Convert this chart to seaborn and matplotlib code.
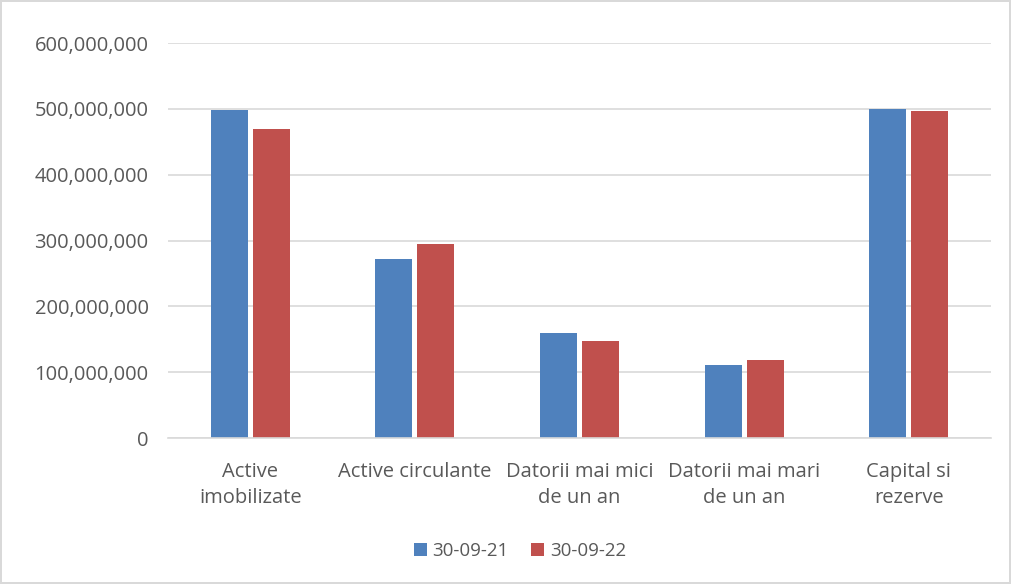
import pandas as pd
import numpy as np
import matplotlib.pyplot as plt
import matplotlib.ticker as mticker
import seaborn as sns

# Values
categories = ['Active\nimobilizate', 'Active circulante', 'Datorii mai mici\nde un an',
              'Datorii mai mari\nde un an', 'Capital si\nrezerve']
series_names = ['30-09-21', '30-09-22']
values_2021 = [498_000_000, 272_000_000, 159_000_000, 111_000_000, 500_000_000]
values_2022 = [469_000_000, 294_000_000, 147_000_000, 118_000_000, 497_000_000]

df = pd.DataFrame({
    'Categorie': categories * 2,
    'Perioada': [series_names[0]] * 5 + [series_names[1]] * 5,
    'Valoare': values_2021 + values_2022,
})

sns.set_style('white')
plt.rcParams['font.family'] = ['Open Sans', 'DejaVu Sans']

fig = plt.figure(figsize=(10.11, 5.84), dpi=100)
fig.patch.set_edgecolor('#D9D9D9')
fig.patch.set_linewidth(1.5)
ax = fig.add_axes([168 / 1011, 1 - 438 / 584, 823 / 1011, 395 / 584])

sns.barplot(data=df, x='Categorie', y='Valoare', hue='Perioada',
            palette=['#4F81BD', '#C0504D'], saturation=1, width=0.51, gap=0.12,
            linewidth=0, ax=ax, legend=True)

ax.set_ylim(0, 600_000_000)
ax.set_xlim(-0.5, 4.5)
ax.yaxis.set_major_locator(mticker.MultipleLocator(100_000_000))
ax.yaxis.set_major_formatter(mticker.FuncFormatter(lambda v, p: f'{int(v):,}'))
ax.grid(axis='y', color='#D9D9D9', linewidth=1.2)
ax.set_axisbelow(True)
for s in ['top', 'right', 'left']:
    ax.spines[s].set_visible(False)
ax.spines['bottom'].set_color('#D9D9D9')
ax.spines['bottom'].set_linewidth(1.2)
ax.set_xlabel('')
ax.set_ylabel('')
ax.tick_params(axis='both', length=0, labelsize=14.5, colors='#595959')
ax.tick_params(axis='y', pad=14)
ax.tick_params(axis='x', pad=17)
for lbl in ax.get_xticklabels():
    lbl.set_linespacing(1.45)

handles, labels = ax.get_legend_handles_labels()
ax.legend(handles, labels, loc='center', bbox_to_anchor=(520 / 1011, 1 - 551 / 584),
          bbox_transform=fig.transFigure, ncol=2, frameon=False, fontsize=13.5,
          handlelength=0.7, handleheight=0.7, handletextpad=0.3, columnspacing=1.2,
          labelcolor='#595959')

fig.savefig('out.png', dpi=100)
